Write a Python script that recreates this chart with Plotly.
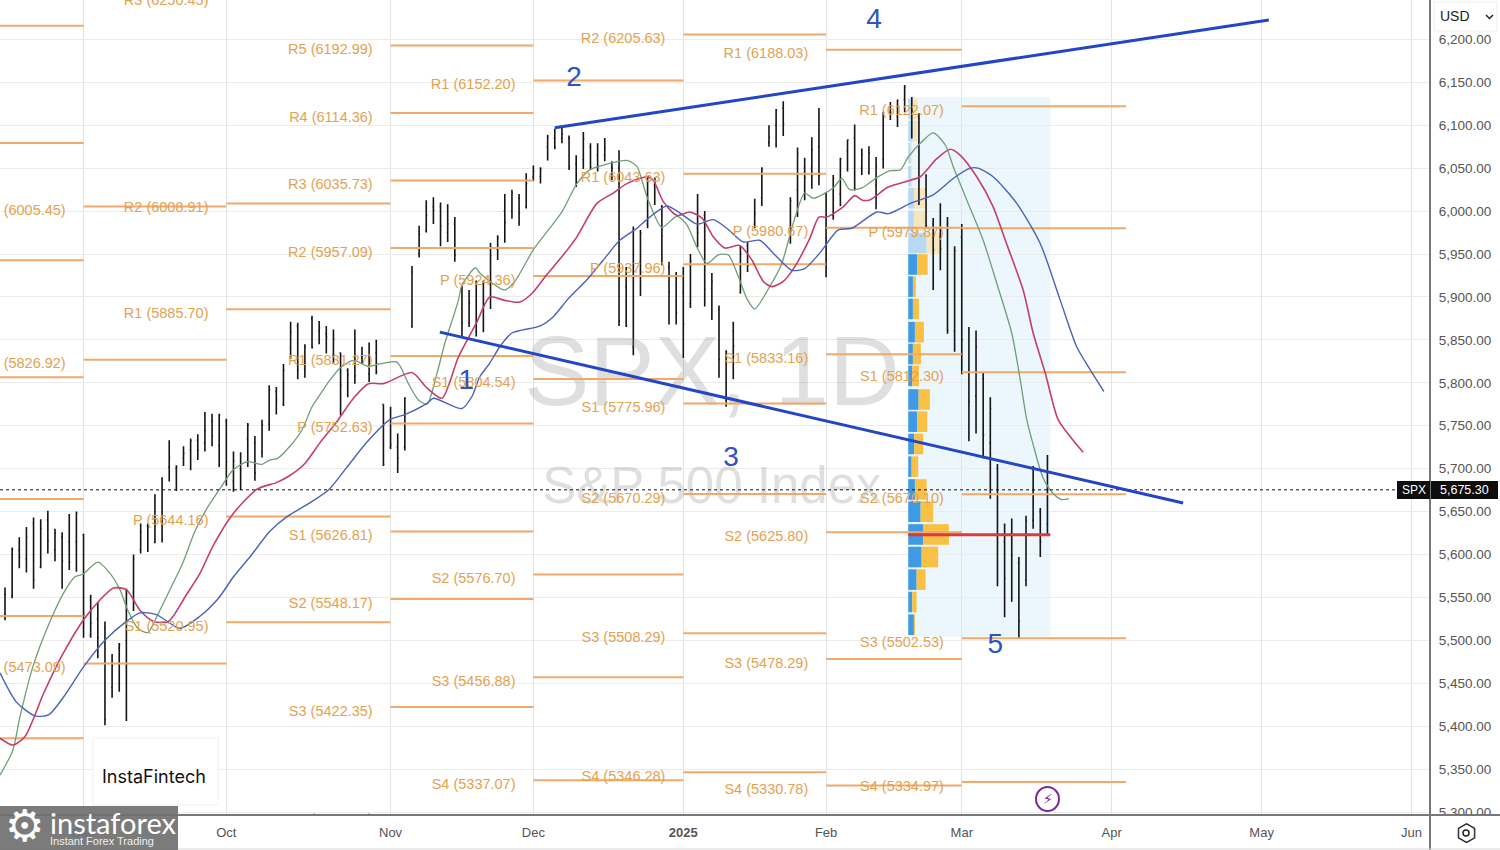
import plotly.graph_objects as go

# ---------- OHLC (trading-day index, 0 = first visible bar) ----------
highs = [5561.6,5608,5620,5632,5643,5641,5651,5630,5626,5647,5650,5624,5553,5545,5522,5484,5497,5560,5600,5636,5636,5670,5690,5733,5704,5726,5735,5740,5766,5764,5764,
5758,5720,5719,5753,5738,5757,5797,5795,5822,5871,5870,5845,5878,5872,5866,5862,5835,5817,5862,5842,5847,5850,5775,
5772,5741,5783,5936,5983,6012.5,6016,6010,6008,5993,5913,5908,5919,5919,5963,5972,6020,6025,6020,6044,
6053,6051,6089,6096,6099,6088,6065,6092,6079,6079,6085,6058,6071,5935,5982,5978,6040,6039,6007,5941,5929,
5935,5950,6020,6000,5928,5890,5838,5871,5960,5964,6014.5,6051,6100,6119,6128,6016,6074,6062,6086,6120,
6022,6042,6062,6083,6101,6073,6075.5,6063,6115.5,6127,6130,6147,6133,6114,6043,5992,6009,5993,5959,
5985,5865,5861,5812,5783,5705.5,5636,5642,5597,5645,5703,5654,5716]
lows = [5523.5,5549,5584,5579,5560,5584,5601,5592,5560,5582,5580,5503,5503,5479,5401,5433,5440,5406,5534,5601,5603,5613,5614,5685,5674,5703,5698,5710,5720,5726,5702,
5680,5673,5675,5702,5686,5713,5744,5763,5773,5828,5804,5806,5840,5845,5834,5822,5762,5783,5799,5822,5801,5810,5703,
5723,5695,5721,5864,5946,5975,5985,5959,5964,5941,5853,5865,5854,5859,5886,5943,5963,5991,5983,6003,
6035,6032,6059,6072,6079,6048,6028,6049,6049,6046,6058,6036,5866,5865,5832,5901,5980,6007,5937,5868,5868,
5829,5887,5958,5889,5873,5806,5772,5804,5904,5929,5980,6006,6075,6074,6087.5,5962,5993,6012.5,6026,6030,
5923,5990,6005.5,6046,6024,6042,6042.5,6002,6049.5,6106,6098,6115.5,6084.5,6007,5981.5,5908,5931,5857,5836,
5810,5732,5741,5712,5665,5563,5527,5545,5502.5,5563,5630,5597,5622]
opens = [5530,5552,5605,5595,5636,5585,5640,5605,5620,5615,5615,5623,5506,5525,5515,5445,5491,5500,5555,5605,5633,5615,5640,5702,5700,5712,5722,5733,5730,5755,5727,
5755,5685,5700,5735,5730,5720,5752,5790,5775,5840,5866,5816,5875,5860,5857,5832,5835,5815,5825,5830,5810,5835,5775,
5725,5725,5725,5865,5950,5977,6005,6005,5975,5985,5910,5870,5860,5915,5915,5955,6000,6000,6015,6005,
6040,6040,6075,6085,6085,6085,6055,6060,6075,6065,6065,6052,6050,5912,5842,5940,5985,6030,6005,5935,5925,
5905,5892,5980,5995,5910,5885,5780,5860,5905,5960,5985,6015,6080,6100,6120,5970,6025,6050,6050,6075,
5969,5995,6020,6070,6085,6050,6045,6030,6060,6115,6110,6130,6120,6110,6025,5985,5970,5985,5860,
5970,5812,5785,5805,5730,5700,5615,5625,5590,5570,5640,5650,5635]
closes = [5554,5606,5597,5620,5570,5630,5616,5625,5592,5591,5648,5529,5520,5503,5408,5471,5495,5554,5595,5626,5633,5634,5618,5713,5702,5718,5732,5722,5745,5738,5762,
5708,5709,5699,5751,5695,5751,5792,5780,5815,5859,5815,5842,5841,5864,5853,5851,5797,5809,5808,5823,5832,5813,5705,
5728,5712,5782,5929,5973,5995,6001,5983,5985,5949,5870,5893,5916,5917,5948,5969,5987,6021,5998,6032,
6047,6049,6086,6075,6090,6052,6034,6084,6051,6051,6074,6050,5872,5867,5930,5974,6040,6037,5971,5906,5882,
5868,5942,5975,5909,5918,5827,5836,5843,5950,5937,5997,6049,6086,6118,6101,6012,6067,6039,6071,6041,
5994,6038,6061,6083,6026,6066,6068,6052,6115,6115,6129,6144,6117,6013,5983,5955,5956,5861,5954,
5850,5778,5842,5739,5770,5614,5572,5599,5522,5639,5675,5615,5675.3]
bar_index = list(range(len(highs)))

# ---------- displaced moving averages ----------
green_x = [-0.7,1.1,2.1,3.9,6,8.2,9.8,10.9,13,14.7,16.1,17.2,18.6,20,21.4,23.1,24.9,26.6,28.3,30.3,31.9,33.9,36,37.1,38.2,39.9,41.6,43,44.1,45.5,46.9,48.8,50.9,52.5,54.9,56.5,57.9,59.1,60.5,61.6,63.5,64,65.9,66.5,70,71.4,74,76.1,78,80.1,81.9,84,87.1,88.5,89.9,92,94.1,95.5,96.9,98.3,99.9,101.3,102.7,103.9,105,107.1,108.8,110.4,112,113.2,116,117.2,118.3,120,122.1,124,125.4,126.5,128.2,130,131.7,132.8,134.7,137,138.9,141,142.2,143.1,144,145.4,146.8,148,149]
green_y = [5343,5372,5411,5469,5516,5555,5574,5577,5591,5578,5559,5535,5514,5509,5530,5559,5590,5627,5654,5679,5698,5708,5705,5710,5712,5726,5745,5772,5786,5803,5817,5826,5819,5822,5824,5799,5780,5775,5811,5846,5896,5914,5934,5928,5908,5918,5955,5978,5999,6032,6048,6054,6059,6052,6017,5981,5994,5984,5958,5939,5949,5949,5924,5898,5886,5912,5939,5986,6021,6015,6027,6038,6025,6027,6039,6047,6048,6063,6079,6091,6077,6052,6013,5966,5916,5858,5803,5757,5728,5689,5671,5664,5665]
red_x = [-0.7,1.1,2.8,5.4,7.9,11,13.3,15.2,17,18.9,20.8,22.9,25.4,27.3,29.2,32,35.3,38.1,39.9,42,44.1,46.5,48.8,50.9,53,57,59.1,61.2,63.5,66.1,67.9,70,72.1,73.8,75.9,78.2,80.1,82.9,85.2,87.1,89.9,90.8,92.2,94.1,95.9,97.6,99.2,100.8,102.9,104.6,106.2,107.4,109,110.6,112.7,114,115.1,117.4,119,120,121.1,123.7,126.8,128.2,130.5,132.4,133.8,136.1,138.4,140.1,142.6,144,145.7,147.5,149.4,151]
red_y = [5386,5378,5388,5438,5481,5524,5547,5561,5559,5535,5522,5522,5553,5578,5611,5648,5676,5684,5692,5706,5730,5755,5782,5799,5799,5812,5794,5782,5830,5871,5900,5896,5894,5904,5926,5949,5970,6009,6021,6032,6040,6036,6011,5995,5999,5992,5970,5957,5960,5943,5918,5912,5918,5935,5968,5993,5993,6005,6018,6013,6013,6028,6036,6040,6061,6072,6065,6040,6005,5966,5908,5858,5811,5757,5735,5719]
blue_x = [-0.7,1.6,4.2,6.1,8.2,11,14,17,18.9,21.2,24.5,27.3,29.9,32,34.3,37.1,39.5,42.7,45.3,46.9,48.3,50.7,53.9,56,59.1,60,64,65.4,66.5,67.9,69.3,71,74.9,76.8,78.9,81.5,83.8,86.1,88.5,90.3,92.7,94.5,96.9,99.2,101.1,103.4,105.7,107.6,110.2,112,114.1,116.7,118.6,122.1,123.7,126.8,130,132.8,135.2,136.3,138.4,141.7,145,147.8,150.1,152,153.9]
blue_y = [5462,5428,5412,5413,5434,5469,5500,5522,5532,5530,5514,5528,5549,5574,5597,5627,5644,5660,5675,5691,5706,5731,5757,5763,5776,5782,5770,5784,5807,5823,5842,5858,5866,5877,5898,5920,5943,5966,5980,5993,6006,5998,5985,5990,5980,5964,5966,5951,5931,5933,5951,5978,5980,5999,5997,6009,6019,6038,6050,6050,6040,6009,5962,5896,5842,5815,5790]

# ---------- monthly pivots ----------
aug_levels = [6215.9,6079.3,5942.7,5806.4,5664.6,5528.3,5385.9]
sep_names, sep_levels = ["R2","R1","S1"], [6005.45,5826.92,5473.09]
oct_names, oct_levels = ["R3","R2","R1","P","S1"], [6250.45,6008.91,5885.70,5644.16,5520.95]
nov_names, nov_levels = ["R5","R4","R3","R2","R1","P","S1","S2","S3","S4"], [6192.99,6114.36,6035.73,5957.09,5831.27,5752.63,5626.81,5548.17,5422.35,5296.53]
dec_names, dec_levels = ["R1","P","S1","S2","S3","S4"], [6152.20,5924.36,5804.54,5576.70,5456.88,5337.07]
jan_names, jan_levels = ["R2","R1","P","S1","S2","S3","S4"], [6205.63,6043.63,5937.96,5775.96,5670.29,5508.29,5346.28]
feb_names, feb_levels = ["R1","P","S1","S2","S3","S4"], [6188.03,5980.67,5833.16,5625.80,5478.29,5330.78]
mar_names, mar_levels = ["R1","P","S1","S2","S3","S4"], [6122.07,5979.87,5812.30,5670.10,5502.53,5334.97]
periods = [
    (11, 31, sep_names, sep_levels), (31, 54, oct_names, oct_levels), (54, 74, nov_names, nov_levels),
    (74, 95, dec_names, dec_levels), (95, 115, jan_names, jan_levels), (115, 134, feb_names, feb_levels),
    (134, 157, mar_names, mar_levels),
]

# ---------- volume profile ----------
vp_price = [5518.2,5544.6,5570.7,5597,5623.3,5649.8,5675.7,5702.3,5728.7,5754.7,5780.5,5808,5833.5,5859,5886,5912,5937.8,5962.8,5988.4,6015,6040.6,6067.6,6093.2,6119]
vp_blue = [0.8,0.56,1.18,1.88,2.1,1.74,0.94,0.48,0.84,1.26,1.46,0.56,0.66,0.94,0.66,0.66,1.26,2.58,0.8,0.8,0.38,0.34,0.62,0.38]
vp_gold = [0.14,0.62,1.26,2.32,3.6,1.76,1.64,0.92,1.26,1.4,1.58,0.94,1.12,1.26,0.84,0.42,1.46,2.1,1.68,1.54,0.14,0.18,0.7,0.94]
vp_start, vp_end = 126.5, 146.4
poc_price = 5623
last_price = 5675.3

# ---------- trend lines and wave labels ----------
upper_x, upper_y = [77, 177], [6097, 6222.6]
lower_x, lower_y = [60.9, 165], [5859, 5660]
wave_text = ["1", "2", "3", "4", "5"]
wave_x = [64.6, 79.7, 101.7, 121.7, 138.7]
wave_y = [5801, 6153.5, 5711, 6222, 5493]

month_ticks = [11, 31, 54, 74, 95, 115, 134, 155, 176, 197]
month_text = ["Sep", "Oct", "Nov", "Dec", "<b>2025</b>", "Feb", "Mar", "Apr", "May", "Jun"]
price_ticks = list(range(5300, 6201, 50))

XR = [-0.70, 199.58]
YR = [5296.5, 6245.9]
FONT = "Liberation Sans"
W, H, PW, PH = 1500, 850, 1430, 815
px = lambda v: v / PW
py = lambda v: 1 - v / PH

fig = go.Figure()

# watermark
fig.add_trace(go.Scatter(x=[99, 99], y=[5803, 5675], mode="text", text=["SPX, 1D", "S&P 500 Index"],
                         textfont=dict(size=[98, 51], color="rgba(140,140,140,0.28)", family=FONT),
                         textposition="middle center", hoverinfo="skip"))

# volume profile
vp_light = [i >= 17 for i in range(len(vp_price))]
fig.add_trace(go.Bar(y=vp_price, x=vp_blue, base=[vp_start] * len(vp_price), orientation="h", width=24,
                     marker=dict(color=["#b7d9f3" if l else "#3f9ae6" for l in vp_light], line_width=0), hoverinfo="skip"))
fig.add_trace(go.Bar(y=vp_price, x=vp_gold, base=[vp_start + b for b in vp_blue], orientation="h", width=24,
                     marker=dict(color=["#f5e6c0" if l else "#f8c146" for l in vp_light], line_width=0), hoverinfo="skip"))

# bars
fig.add_trace(go.Ohlc(x=bar_index, open=opens, high=highs, low=lows, close=closes, tickwidth=0.14,
                      increasing=dict(line=dict(color="#151515", width=1.6)),
                      decreasing=dict(line=dict(color="#151515", width=1.6)), hoverinfo="skip"))

# pivot segments
seg_x, seg_y = [], []
for v in aug_levels:
    seg_x += [-1, 11, None]
    seg_y += [v, v, None]
lab_x, lab_y, lab_t = [], [], []
for a, b, names, levels in periods:
    for n, v in zip(names, levels):
        seg_x += [a, b, None]
        seg_y += [v, v, None]
        lab_x.append(a - 2.5)
        lab_y.append(v - 5.8)
        lab_t.append(f"{n} ({v:.2f})")
fig.add_trace(go.Scatter(x=seg_x, y=seg_y, mode="lines", line=dict(color="#f2a868", width=2), hoverinfo="skip"))

# moving averages
smooth = dict(shape="spline", smoothing=0.7)
fig.add_trace(go.Scatter(x=green_x, y=green_y, mode="lines", line=dict(color="#6f9f78", width=1.3, **smooth), hoverinfo="skip"))
fig.add_trace(go.Scatter(x=red_x, y=red_y, mode="lines", line=dict(color="#c43f6d", width=1.6, **smooth), hoverinfo="skip"))
fig.add_trace(go.Scatter(x=blue_x, y=blue_y, mode="lines", line=dict(color="#4a63b8", width=1.4, **smooth), hoverinfo="skip"))

# point of control, last price, trend lines
fig.add_trace(go.Scatter(x=[vp_start, vp_end], y=[poc_price, poc_price], mode="lines",
                         line=dict(color="#d93a3a", width=3), hoverinfo="skip"))
fig.add_trace(go.Scatter(x=[-0.7, 195], y=[last_price, last_price], mode="lines",
                         line=dict(color="#111111", width=1, dash="dot"), hoverinfo="skip"))
fig.add_trace(go.Scatter(x=upper_x, y=upper_y, mode="lines", line=dict(color="#2345c6", width=3), hoverinfo="skip"))
fig.add_trace(go.Scatter(x=lower_x, y=lower_y, mode="lines", line=dict(color="#2345c6", width=3), hoverinfo="skip"))

# labels
fig.add_trace(go.Scatter(x=lab_x, y=lab_y, mode="text", text=lab_t, textposition="middle left",
                         textfont=dict(size=14.5, color="#e4a24f", family=FONT), hoverinfo="skip"))
fig.add_trace(go.Scatter(x=wave_x, y=wave_y, mode="text", text=wave_text, textposition="middle center",
                         textfont=dict(size=28, color="#2f52c4", family=FONT), hoverinfo="skip"))

def rect(x0, y0, x1, y1, fill="white", line="rgba(0,0,0,0)", lw=0, layer="above"):
    return dict(type="rect", xref="paper", yref="paper", x0=px(x0), x1=px(x1), y0=py(y0), y1=py(y1),
                fillcolor=fill, line=dict(color=line, width=lw), layer=layer)

def hline(x0, x1, y, color, lw):
    return dict(type="line", xref="paper", yref="paper", x0=px(x0), x1=px(x1), y0=py(y), y1=py(y),
                line=dict(color=color, width=lw), layer="above")

def note(x, y, text, size=13, color="#555555", family=FONT, xanchor="center", **kw):
    return dict(xref="paper", yref="paper", x=px(x), y=py(y), text=text, showarrow=False,
                font=dict(size=size, color=color, family=family), xanchor=xanchor, yanchor="middle", **kw)

shapes = [
    dict(type="rect", xref="x", yref="y", x0=vp_start, x1=vp_end, y0=5504, y1=6133, layer="below",
         fillcolor="rgba(205,232,250,0.38)", line_width=0),
    rect(0, 816, 1500, 825),
    rect(93, 738, 218, 805, fill="white", line="#f1f1f1", lw=1),
    rect(1434, 2, 1497, 31, fill="white", line="#eeeeee", lw=1),
    dict(type="line", xref="paper", yref="paper", x0=px(1430), x1=px(1430), y0=py(0), y1=py(850),
         line=dict(color="#777777", width=2), layer="above"),
    hline(0, 1500, 815, "#777777", 2),
    hline(0, 1500, 849, "#d8d8d8", 1),
    rect(0, 806, 178, 850, fill="rgba(112,112,112,0.92)"),
    rect(1397, 481, 1430, 499, fill="#0d0d0d"),
    rect(1431, 481, 1498, 499, fill="#0d0d0d"),
    dict(type="circle", xref="paper", yref="paper", x0=px(1036), x1=px(1059), y0=py(787), y1=py(811),
         line=dict(color="#7b2a9c", width=2), fillcolor="white", layer="above"),
    dict(type="circle", xref="paper", yref="paper", x0=px(1463), x1=px(1469), y0=py(830), y1=py(836),
         line=dict(color="#222222", width=1.5), fillcolor="white", layer="above"),
    dict(type="path", xref="paper", yref="paper",
         path=f"M {px(1486)} {py(15)} L {px(1489.5)} {py(18.5)} L {px(1493)} {py(15)}",
         line=dict(color="#222222", width=1.5), layer="above"),
]

annotations = [
    note(1438, 16, "USD", size=14, color="#222222", xanchor="left"),
    note(1413.5, 490, "SPX", size=12, color="white"),
    note(1464.5, 490, "5,675.30", size=12.5, color="white"),
    note(154, 776, "InstaFintech", size=18, color="#111111", family="Inter"),
    note(24, 826, "⚙", size=44, color="white", family="DejaVu Sans"),
    note(48, 822, "instaforex", size=29, color="white", family="Lato", xanchor="left"),
    note(48, 841, "Instant Forex Trading", size=11, color="#eeeeee", xanchor="left"),
    note(1047.5, 799, "⚡", size=14, color="#7b2a9c", family="DejaVu Sans"),
    note(1466, 833, "⬡", size=24, color="#222222", family="DejaVu Sans"),
]

fig.update_layout(
    width=W, height=H, margin=dict(l=0, r=W - PW, t=0, b=H - PH), paper_bgcolor="white", plot_bgcolor="white",
    showlegend=False, hovermode=False, barmode="overlay", dragmode=False,
    font=dict(family=FONT), shapes=shapes, annotations=annotations,
    xaxis=dict(range=XR, tickmode="array", tickvals=month_ticks, ticktext=month_text, rangeslider=dict(visible=False),
               showgrid=True, gridcolor="#e3e3e3", gridwidth=1, zeroline=False, ticks="outside", ticklen=5,
               tickcolor="rgba(0,0,0,0)", tickfont=dict(size=13, color="#555555", family=FONT)),
    yaxis=dict(range=YR, side="right", tickmode="array", tickvals=price_ticks,
               ticktext=[f"{v:,.2f}" for v in price_ticks],
               showgrid=True, gridcolor="#ebebeb", gridwidth=1, zeroline=False, ticks="outside", ticklen=5,
               tickcolor="rgba(0,0,0,0)", tickfont=dict(size=13.5, color="#555555", family=FONT)),
)

fig.write_html("out.html", config=dict(displayModeBar=False, staticPlot=True),
               post_script="document.body.style.margin='0';document.body.style.overflow='hidden';")
